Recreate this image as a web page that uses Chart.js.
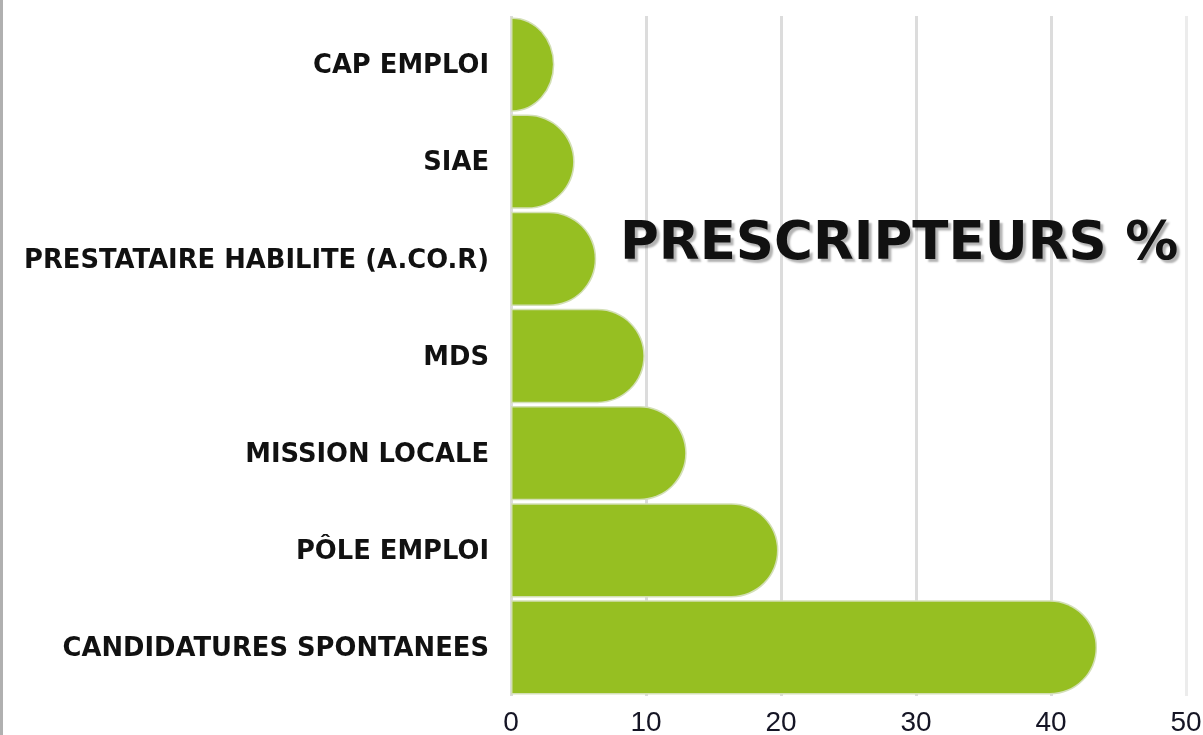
<!DOCTYPE html>
<html><head><meta charset="utf-8">
<script src="https://cdn.jsdelivr.net/npm/chart.js@4.4.0/dist/chart.umd.min.js"></script>
<style>html,body{margin:0;padding:0;background:#fff;overflow:hidden}#wrap{width:1203px;height:735px;position:relative}</style>
</head><body><div id="wrap"><canvas id="c" width="1203" height="735"></canvas></div>
<script>
const categories = ['CAP EMPLOI','SIAE','PRESTATAIRE HABILITE (A.CO.R)','MDS','MISSION LOCALE','PÔLE EMPLOI','CANDIDATURES SPONTANEES'];
const values = [3.1, 4.6, 6.2, 9.8, 12.9, 19.7, 43.3];
const xTicks = [0, 10, 20, 30, 40, 50];
const chartTitle = 'PRESCRIPTEURS %';

// Bars with a half-elliptic right end
Chart.BarElement.prototype.draw = function(ctx){
  const {x, y, base, height} = this.getProps(['x','y','base','height']);
  const x0 = Math.min(base, x), x1 = Math.max(base, x);
  const top = y - height/2, bot = y + height/2;
  const ry = height/2, rx = Math.min(ry, x1 - x0);
  ctx.save();
  ctx.beginPath();
  ctx.moveTo(x0, top);
  ctx.lineTo(x1 - rx, top);
  ctx.ellipse(x1 - rx, y, rx, ry, 0, -Math.PI/2, Math.PI/2);
  ctx.lineTo(x0, bot);
  ctx.closePath();
  ctx.lineWidth = this.options.borderWidth;
  ctx.strokeStyle = this.options.borderColor;
  ctx.stroke();
  ctx.fillStyle = this.options.backgroundColor;
  ctx.fill();
  ctx.restore();
};

const decor = {
  id: 'decor',
  afterDatasetsDraw(chart){
    const ctx = chart.ctx;
    ctx.save();
    ctx.font = 'bold 53px "DejaVu Sans"';
    ctx.textAlign = 'left';
    ctx.textBaseline = 'alphabetic';
    ctx.shadowColor = 'rgba(0,0,0,0.3)';
    ctx.shadowOffsetX = 3; ctx.shadowOffsetY = 3; ctx.shadowBlur = 2;
    ctx.fillStyle = '#111';
    ctx.fillText(chartTitle, 620, 259);
    ctx.restore();
  },
  afterDraw(chart){
    const ctx = chart.ctx;
    ctx.save();
    ctx.fillStyle = '#b0b0b0';
    ctx.fillRect(0, 0, 3, chart.height);
    ctx.restore();
  }
};

new Chart(document.getElementById('c'), {
  type: 'bar',
  data: {
    labels: categories,
    datasets: [{
      data: values,
      backgroundColor: '#96bf22',
      borderColor: '#d3dfb6',
      borderWidth: 3,
      barPercentage: 0.94,
      categoryPercentage: 1
    }]
  },
  options: {
    indexAxis: 'y',
    responsive: false,
    animation: false,
    layout: { padding: { top: 16, right: 17, left: 0, bottom: 0 } },
    plugins: { legend: { display: false }, tooltip: { enabled: false }, title: { display: false } },
    scales: {
      x: {
        min: 0, max: 50,
        afterBuildTicks(scale){ scale.ticks = xTicks.map(v => ({ value: v })); },
        afterFit(scale){ scale.height = 39; scale.paddingLeft = 0; scale.paddingRight = 0; },
        grid: {
          color: ctx => (ctx.tick && ctx.tick.value === 50) ? '#ececec' : '#dcdcdc',
          lineWidth: 3,
          drawTicks: false
        },
        border: { display: false },
        ticks: { padding: 10, color: '#151525', font: { family: '"Liberation Sans"', size: 28 }, maxRotation: 0 }
      },
      y: {
        afterFit(scale){ scale.width = 511; scale.paddingTop = 0; scale.paddingBottom = 0; },
        grid: { display: false },
        border: { display: false },
        ticks: { padding: 14, labelOffset: 2, color: '#111', font: { family: '"DejaVu Sans"', size: 25.8, weight: 'bold' } }
      }
    }
  },
  plugins: [decor]
});
</script>
</body></html>
